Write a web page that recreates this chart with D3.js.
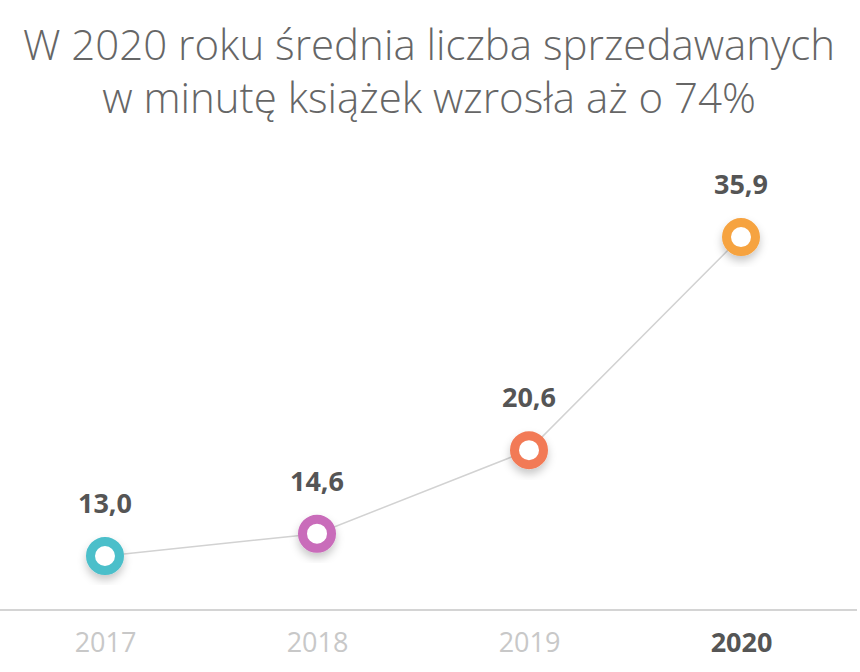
<!DOCTYPE html>
<html>
<head>
<meta charset="utf-8">
<script src="https://cdn.jsdelivr.net/npm/d3@7"></script>
<style>
  body { margin: 0; background: #fff; }
  svg { display: block; font-family: 'Open Sans', sans-serif; }
</style>
</head>
<body>
<svg width="860" height="672"></svg>
<script>

let years = ['2017', '2018', '2019', '2020'];
let values = [13.0, 14.6, 20.6, 35.9];
let valueLabels = ['13,0', '14,6', '20,6', '35,9'];
let colors = ['#4cbfca', '#c96cba', '#f27a56', '#f6a341'];
let titleLines = ['W 2020 roku średnia liczba sprzedawanych', 'w minutę książek wzrosła aż o 74%'];

let svg = d3.select('svg');

let xScale = d3.scalePoint()
               .domain(years)
               .range([105, 741]);

let yScale = d3.scaleLinear()
               .domain([0, 40])
               .range([737, 180]);

// drop shadow for the markers
let defs = svg.append('defs');
let filter = defs.append('filter')
                 .attr('id', 'shadow')
                 .attr('x', '-50%')
                 .attr('y', '-50%')
                 .attr('width', '200%')
                 .attr('height', '200%');
filter.append('feDropShadow')
      .attr('dx', 0)
      .attr('dy', 5)
      .attr('stdDeviation', 4)
      .attr('flood-color', '#000')
      .attr('flood-opacity', 0.22);

svg.append('g')
   .selectAll('text')
   .data(titleLines)
   .enter()
   .append('text')
   .attr('x', 429)
   .attr('y', (d, i) => 60 + i * 53)
   .attr('text-anchor', 'middle')
   .attr('font-size', 42)
   .attr('font-weight', 300)
   .attr('fill', '#666')
   .text(d => d);

// bottom axis
let xAxis = d3.axisBottom(xScale)
              .tickSize(0);

let axisG = svg.append('g')
               .attr('id', 'xAxisG')
               .attr('transform', 'translate(0,610)')
               .call(xAxis);

axisG.select('.domain')
     .attr('d', 'M0,0H857')
     .attr('stroke', '#d4d4d4')
     .attr('stroke-width', 2);

axisG.selectAll('.tick text')
     .attr('font-family', 'Open Sans, sans-serif')
     .attr('font-size', 27)
     .attr('y', 42)
     .attr('dy', 0)
     .attr('fill', (d, i) => i == years.length - 1 ? '#555' : '#c8c8c8')
     .attr('font-weight', (d, i) => i == years.length - 1 ? 700 : 400);

let data = years.map((y, i) => ({ year: y, value: values[i], label: valueLabels[i], color: colors[i] }));

let line = d3.line()
             .x(d => xScale(d.year))
             .y(d => yScale(d.value));

svg.append('path')
   .attr('d', line(data))
   .attr('fill', 'none')
   .attr('stroke', '#d2d2d2')
   .attr('stroke-width', 1.5);

svg.append('g')
   .selectAll('circle')
   .data(data)
   .enter()
   .append('circle')
   .attr('cx', d => xScale(d.year))
   .attr('cy', d => yScale(d.value))
   .attr('r', 14.5)
   .attr('fill', '#fff')
   .attr('stroke', d => d.color)
   .attr('stroke-width', 9)
   .attr('filter', 'url(#shadow)');

svg.append('g')
   .selectAll('text')
   .data(data)
   .enter()
   .append('text')
   .attr('x', d => xScale(d.year))
   .attr('y', d => yScale(d.value) - 43)
   .attr('text-anchor', 'middle')
   .attr('font-size', 27)
   .attr('font-weight', 700)
   .attr('fill', '#555')
   .text(d => d.label);

</script>
</body>
</html>
